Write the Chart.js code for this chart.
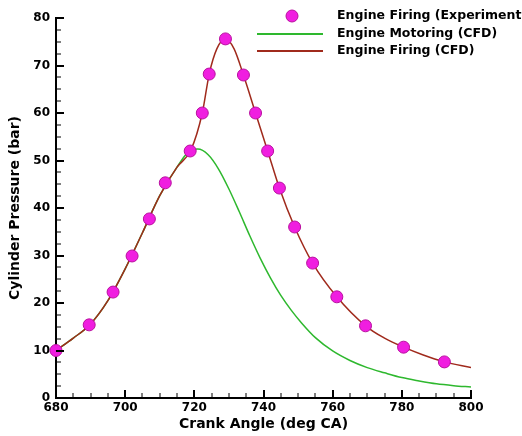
<!DOCTYPE html>
<html>
<head>
<meta charset="utf-8">
<script src="https://cdn.jsdelivr.net/npm/chart.js@4"></script>
<style>
    html, body { margin: 0; padding: 0; background: #fff; }
    canvas { display: block; }
</style>
</head>
<body>
<canvas id="chartPressure" width="522" height="436"></canvas>
<script>
/**
 * Experiment (markers)
 */
const expAngle = [680, 689.6, 696.5, 702, 707, 711.6, 718.8, 722.3, 724.3, 729, 734.2, 737.7, 741.2, 744.6, 749, 754.2, 761.2, 769.5, 780.5, 792.3];
const expPressure = [10.0, 15.4, 22.3, 29.9, 37.7, 45.3, 52.0, 60.0, 68.2, 75.6, 68.0, 60.0, 52.0, 44.2, 36.0, 28.4, 21.3, 15.2, 10.7, 7.6];

/**
 * Engine firing (CFD)
 */
const firingAngle = [680, 685, 690, 695, 700, 705, 710, 715, 719, 722.3, 724.3, 726.5, 729, 731.5, 734.2, 737.7, 741.2, 744.6, 749, 754.2, 761.2, 769.5, 775, 780.5, 786, 792.3, 800];
const firingPressure = [10.0, 12.6, 15.6, 20.5, 27.2, 34.8, 42.6, 48.6, 52.2, 60.0, 68.2, 73.5, 75.7, 73.5, 68.0, 60.0, 52.0, 44.2, 36.0, 28.4, 21.3, 15.2, 12.6, 10.7, 9.1, 7.6, 6.4];

/**
 * Engine motoring (CFD)
 */
const motorAngle = [680, 685, 690, 695, 700, 705, 710, 715, 719, 721, 724, 727, 730, 733, 736, 739, 742, 745, 748, 751, 755, 760, 765, 770, 775, 780, 785, 790, 795, 800];
const motorPressure = [10.0, 12.6, 15.6, 20.5, 27.2, 34.8, 42.6, 48.6, 52.2, 52.4, 51.2, 48.2, 44.0, 39.2, 34.2, 29.5, 25.3, 21.6, 18.5, 15.8, 12.7, 9.9, 7.9, 6.4, 5.3, 4.3, 3.6, 3.0, 2.6, 2.3];

/**
 * Axes
 */
const xTicks = [680, 700, 720, 740, 760, 780, 800];
const yTicks = [0, 10, 20, 30, 40, 50, 60, 70, 80];

/**
 * Labels
 */
const seriesLabels = ['Engine Firing (Experiment)', 'Engine Motoring (CFD)', 'Engine Firing (CFD)'];

const toPoints = (xs, ys) => xs.map((x, i) => ({ x: x, y: ys[i] }));

const FONT = 'DejaVu Sans';

/**
 * Tick marks (pointing inward)
 */
const tickMarks = {
    id: 'tickMarks',
    afterDraw(chart) {
        const ctx = chart.ctx;
        const xs = chart.scales.x;
        const ys = chart.scales.y;
        const area = chart.chartArea;
        ctx.save();
        ctx.strokeStyle = '#000';

        for (let v = xTicks[0]; v <= xTicks[xTicks.length - 1]; v += 5) {
            const major = xTicks.includes(v);
            const px = Math.round(xs.getPixelForValue(v));
            ctx.lineWidth = major ? 2 : 1;
            ctx.beginPath();
            ctx.moveTo(px, area.bottom);
            ctx.lineTo(px, area.bottom - (major ? 8 : 5));
            ctx.stroke();
        }

        for (let v = yTicks[0]; v <= yTicks[yTicks.length - 1]; v += 2.5) {
            const major = yTicks.includes(v);
            const py = Math.round(ys.getPixelForValue(v));
            ctx.lineWidth = major ? 2 : 1;
            ctx.beginPath();
            ctx.moveTo(area.left, py);
            ctx.lineTo(area.left + (major ? 8 : 5), py);
            ctx.stroke();
        }
        ctx.restore();
    }
};

/**
 * Legend (top right, partly cut by the edge)
 */
const legendBox = {
    id: 'legendBox',
    afterDraw(chart) {
        const ctx = chart.ctx;
        const ds = chart.data.datasets;
        const rows = [16, 34, 51];
        ctx.save();
        ctx.font = 'bold 12.5px "' + FONT + '"';
        ctx.textBaseline = 'middle';

        // marker
        ctx.beginPath();
        ctx.arc(292, rows[0], 6, 0, Math.PI * 2);
        ctx.fillStyle = ds[0].pointBackgroundColor;
        ctx.fill();
        ctx.lineWidth = 1;
        ctx.strokeStyle = ds[0].pointBorderColor;
        ctx.stroke();

        // lines
        [1, 2].forEach(i => {
            ctx.beginPath();
            ctx.strokeStyle = ds[i].borderColor;
            ctx.lineWidth = 2;
            ctx.moveTo(257, rows[i]);
            ctx.lineTo(323, rows[i]);
            ctx.stroke();
        });

        ctx.fillStyle = '#000';
        seriesLabels.forEach((t, i) => ctx.fillText(t, 337, rows[i]));
        ctx.restore();
    }
};

/**
 * Chart
 */
new Chart(document.getElementById('chartPressure'), {
    type: 'line',
    data: {
        datasets: [
            {
                label: seriesLabels[0],
                data: toPoints(expAngle, expPressure),
                showLine: false,
                pointRadius: 6,
                pointBackgroundColor: '#f01ee0',
                pointBorderColor: '#b8109e',
                pointBorderWidth: 1,
                clip: false,
                order: 0
            },
            {
                label: seriesLabels[1],
                data: toPoints(motorAngle, motorPressure),
                borderColor: '#2eb82e',
                borderWidth: 1.5,
                pointRadius: 0,
                cubicInterpolationMode: 'monotone',
                order: 2
            },
            {
                label: seriesLabels[2],
                data: toPoints(firingAngle, firingPressure),
                borderColor: '#a02a1c',
                borderWidth: 1.5,
                pointRadius: 0,
                cubicInterpolationMode: 'monotone',
                order: 1
            }
        ]
    },
    options: {
        responsive: false,
        animation: false,
        layout: { padding: { top: 18, right: 51, left: 0, bottom: 0 } },
        plugins: {
            legend: { display: false },
            tooltip: { enabled: false }
        },
        scales: {
            x: {
                type: 'linear',
                min: 680,
                max: 800,
                afterBuildTicks: s => { s.ticks = xTicks.map(v => ({ value: v })); },
                afterFit: s => { s.height = 38; },
                grid: { display: false, drawTicks: false },
                border: { display: true, color: '#000', width: 2 },
                ticks: { color: '#000', padding: 3, font: { family: FONT, size: 12, weight: 'bold' } },
                title: {
                    display: true,
                    text: 'Crank Angle (deg CA)',
                    color: '#000',
                    padding: { top: 0, bottom: 3 },
                    font: { family: FONT, size: 14, weight: 'bold' }
                }
            },
            y: {
                min: 0,
                max: 80,
                afterBuildTicks: s => { s.ticks = yTicks.map(v => ({ value: v })); },
                afterFit: s => { s.width = 56; },
                grid: { display: false, drawTicks: false },
                border: { display: true, color: '#000', width: 2 },
                ticks: { color: '#000', padding: 6, font: { family: FONT, size: 12, weight: 'bold' } },
                title: {
                    display: true,
                    text: 'Cylinder Pressure (bar)',
                    color: '#000',
                    padding: { top: 7, bottom: 0 },
                    font: { family: FONT, size: 14, weight: 'bold' }
                }
            }
        }
    },
    plugins: [tickMarks, legendBox]
});
</script>
</body>
</html>
